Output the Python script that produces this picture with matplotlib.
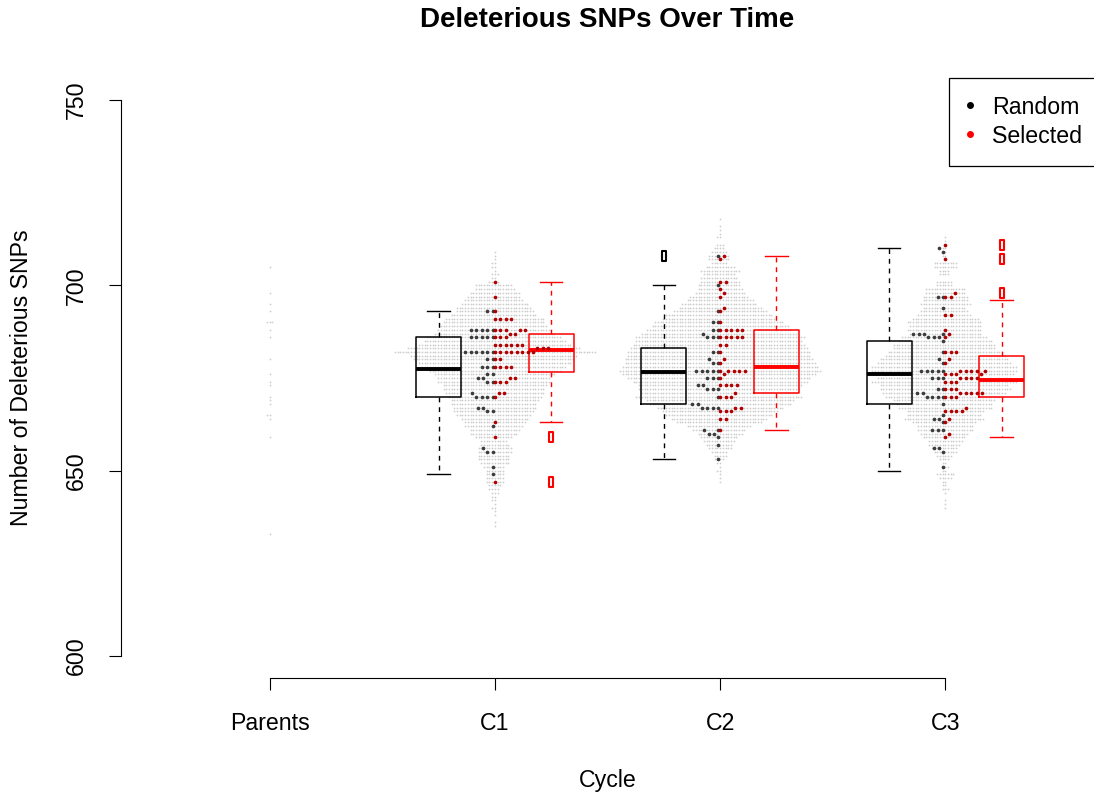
import numpy as np
import matplotlib
matplotlib.use("Agg")
import matplotlib.pyplot as plt
from matplotlib.path import Path
from matplotlib.lines import Line2D

plt.rcParams['font.family'] = ['Liberation Sans', 'DejaVu Sans']

groups = ['Parents', 'C1', 'C2', 'C3']

# parents (grey only)
parents = [705, 698, 695, 693, 690, 690, 690, 688, 686, 680, 676, 674, 673,
           670, 669, 668, 665, 665, 664, 659, 633]

# grey swarm: number of points per SNP value, counted downward from the top value
grey_top = [709, 718, 713]
grey_c1 = [1, 1, 1, 2, 2, 1, 3, 2, 4,
           14, 15, 19, 20, 22, 25, 28, 29, 32, 37,
           38, 40, 42, 45, 50, 53, 57, 64, 75, 62,
           60, 57, 54, 49, 45, 42, 42, 39, 38, 37,
           35, 33, 32, 31, 30, 28, 25, 23, 22, 19,
           18, 14, 10, 11, 13, 13, 12, 12, 11, 8,
           7, 7, 7, 7, 5, 4, 3, 2, 2, 1,
           2, 1, 1, 0, 1, 1]
grey_c2 = [1, 0, 1, 1, 1, 2, 0, 3, 4, 6,
           8, 8, 6, 11, 15, 12, 14, 15, 16, 17,
           19, 22, 25, 28, 31, 35, 40, 42, 48, 51,
           54, 58, 63, 62, 64, 66, 68, 68, 70, 71,
           73, 75, 72, 68, 65, 61, 60, 58, 62, 55,
           53, 47, 43, 40, 36, 32, 24, 20, 17, 14,
           12, 10, 9, 6, 5, 4, 2, 1, 2, 1,
           1, 1]
grey_c3 = [1, 1, 1, 2, 1, 2, 1, 9, 9, 4,
           4, 0, 6, 6, 15, 15, 17, 17, 19, 16,
           18, 20, 25, 28, 27, 28, 27, 32, 35, 38,
           38, 42, 45, 48, 50, 54, 54, 52, 50, 54,
           48, 49, 46, 44, 38, 36, 35, 29, 28, 30,
           24, 21, 21, 18, 16, 13, 12, 10, 9, 6,
           4, 2, 3, 2, 7, 5, 2, 2, 3, 1,
           0, 1, 1, 1]

# random (black) and selected (red) individuals
c1_rand = [693, 693, 688, 688, 688, 688, 688, 686, 686, 686, 686, 686, 682, 682, 682,
           682, 682, 682, 680, 680, 678, 678, 678, 676, 676, 675, 675, 674, 674, 671,
           670, 670, 670, 670, 667, 667, 666, 666, 662, 656, 655, 655, 651, 649]
c1_sel = [701, 697, 693, 691, 691, 691, 691, 688, 688, 688, 688, 688, 687, 687, 686,
          686, 686, 684, 684, 684, 684, 684, 684, 683, 683, 683, 682, 682, 682, 682,
          682, 682, 682, 682, 680, 680, 678, 678, 678, 678, 675, 675, 674, 674, 674,
          671, 671, 670, 663, 659, 647]
c2_rand = [708, 700, 693, 690, 690, 688, 688, 687, 686, 686, 686, 682, 682, 680, 679,
           679, 677, 677, 677, 677, 677, 675, 675, 675, 673, 673, 672, 672, 672, 670,
           668, 668, 667, 667, 667, 667, 661, 661, 660, 660, 659, 657, 653]
c2_sel = [708, 707, 701, 701, 699, 698, 697, 694, 693, 690, 688, 688, 688, 688, 688,
          686, 686, 686, 686, 686, 684, 684, 682, 680, 679, 677, 677, 677, 677, 677,
          676, 675, 673, 673, 673, 673, 671, 670, 670, 670, 667, 667, 666, 666, 666,
          664, 664, 661]
c3_rand = [710, 709, 697, 697, 694, 687, 687, 687, 687, 686, 686, 686, 685, 682, 680,
           679, 677, 677, 677, 677, 677, 675, 675, 675, 672, 672, 671, 671, 670, 670,
           670, 670, 668, 665, 664, 664, 663, 661, 661, 661, 656, 656, 655, 651]
c3_sel = [711, 707, 698, 697, 697, 692, 692, 688, 687, 686, 682, 682, 682, 680, 679,
          677, 677, 677, 677, 677, 676, 676, 676, 676, 675, 675, 675, 675, 674, 674,
          674, 672, 672, 672, 671, 671, 671, 671, 671, 670, 670, 670, 667, 666, 666,
          666, 666, 664, 663, 660, 659]

# boxplot statistics (C1, C2, C3)
rand_med = [677.5, 676.5, 676]
rand_q1 = [670, 668, 668]
rand_q3 = [686, 683, 685]
rand_lo = [649, 653, 650]
rand_hi = [693, 700, 710]
rand_out = [[], [708], []]
sel_med = [682.5, 678, 674.5]
sel_q1 = [676.5, 671, 670]
sel_q3 = [687, 688, 681]
sel_lo = [663, 661, 659]
sel_hi = [701, 708, 696]
sel_out = [[659, 647], [], [711, 707, 698]]

W, H = 1094, 798
fig = plt.figure(figsize=(W / 100, H / 100), dpi=100)
ax = fig.add_axes([121 / W, 1 - 678 / H, 1 - 121 / W, 600 / H])
ax.set_xlim(0.34, 4.66)
ax.set_ylim(594, 756)

sx = 973 / (4.66 - 0.34)   # px per x unit
sy = 600 / (756 - 594)     # px per y unit


def swarm(vals, d, side=0):
    v = np.asarray(vals, float) * sy
    xs = np.zeros(len(v))
    px = np.empty(0)
    py = np.empty(0)
    for i in np.argsort(v, kind='stable'):
        y = v[i]
        near = np.abs(py - y) < d
        nx_, ny_ = px[near], py[near]
        h = np.sqrt(d * d - (ny_ - y) ** 2)
        cand = np.concatenate([[0.0], nx_ - h, nx_ + h])
        if side < 0:
            cand = cand[cand <= 1e-9]
        elif side > 0:
            cand = cand[cand >= -1e-9]
        if len(nx_):
            d2 = (cand[:, None] - nx_[None, :]) ** 2 + (ny_[None, :] - y) ** 2
            cand = cand[np.all(d2 >= d * d - 1e-6, axis=1)]
        c = cand[np.argmin(np.abs(cand))]
        xs[i] = c
        px = np.append(px, c)
        py = np.append(py, y)
    return xs / sx


grey_col = '#cdcdcd'
# grey swarms
grey_sets = [parents]
for top, cnt in zip(grey_top, [grey_c1, grey_c2, grey_c3]):
    levels = top - np.arange(len(cnt))
    grey_sets.append(np.repeat(levels, cnt))
for k, vals in enumerate(grey_sets):
    off = swarm(vals, 2.7)
    ax.scatter(k + 1 + off, vals, s=1.6, color=grey_col, linewidths=0, zorder=1)

# coloured swarms
for k, (r, s) in enumerate([(c1_rand, c1_sel), (c2_rand, c2_sel), (c3_rand, c3_sel)]):
    pos = k + 2
    ro = swarm(r, 5.5, side=-1)
    so = swarm(s, 5.5, side=1)
    ax.scatter(pos + ro - 2 / sx, r, s=7, color='#3c3c3c', linewidths=0, zorder=4)
    ax.scatter(pos + so, s, s=7, color='#b00000', linewidths=0, zorder=4)

# boxplots
rect = Path([(-0.25, -0.5), (0.25, -0.5), (0.25, 0.5), (-0.25, 0.5), (-0.25, -0.5)],
            [Path.MOVETO, Path.LINETO, Path.LINETO, Path.LINETO, Path.CLOSEPOLY])


def draw_boxes(med, q1, q3, lo, hi, out, offset, col):
    stats = []
    for i in range(3):
        stats.append(dict(med=med[i], q1=q1[i], q3=q3[i], whislo=lo[i],
                          whishi=hi[i], fliers=out[i]))
    ax.bxp(stats, positions=[i + 2 + offset for i in range(3)], widths=0.2,
           capwidths=0.1, manage_ticks=False,
           boxprops=dict(color=col, lw=1.1),
           whiskerprops=dict(color=col, lw=1.0, linestyle=(0, (3.5, 3.5))),
           capprops=dict(color=col, lw=1.0),
           medianprops=dict(color=col, lw=2.8, solid_capstyle='butt'),
           flierprops=dict(marker=rect, markersize=7, markerfacecolor='none',
                           markeredgecolor=col, markeredgewidth=1.5, linestyle='none'),
           zorder=3)


draw_boxes(rand_med, rand_q1, rand_q3, rand_lo, rand_hi, rand_out, -0.25, 'black')
draw_boxes(sel_med, sel_q1, sel_q3, sel_lo, sel_hi, sel_out, 0.25, 'red')

# axes styling
for sp in ['top', 'right']:
    ax.spines[sp].set_visible(False)
ax.spines['left'].set_bounds(600, 750)
ax.spines['bottom'].set_bounds(1, 4)
ax.spines['left'].set_linewidth(0.8)
ax.spines['bottom'].set_linewidth(0.8)
ax.set_yticks([600, 650, 700, 750])
ax.set_xticks([1, 2, 3, 4])
ax.set_xticklabels(groups)
ax.tick_params(axis='both', length=8.6, width=0.8, labelsize=16.7)
ax.tick_params(axis='y', labelrotation=90, pad=15)
ax.tick_params(axis='x', pad=16)
for lab in ax.get_yticklabels():
    lab.set_va('center')

leg = ax.legend(handles=[Line2D([], [], ls='none', marker='o', color='black', ms=4),
                         Line2D([], [], ls='none', marker='o', color='red', ms=4)],
                labels=['Random', 'Selected'], loc='upper right',
                bbox_to_anchor=(1 + 6 / 973, 1),
                borderaxespad=0, fancybox=False, edgecolor='black', framealpha=1,
                fontsize=16.7, handlelength=0.25, handleheight=0.95, handletextpad=0.82,
                borderpad=0.79, labelspacing=0.25)
leg.get_frame().set_linewidth(0.9)

fig.text(607.5 / W, 1 - 20 / H, 'Deleterious SNPs Over Time', ha='center', va='center',
         fontsize=20, fontweight='bold')
fig.text(607.5 / W, 1 - 780 / H, 'Cycle', ha='center', va='center', fontsize=16.7)
fig.text(22 / W, 1 - 378 / H, 'Number of Deleterious SNPs', ha='center', va='center',
         rotation=90, fontsize=16.7)

fig.savefig('out.png', dpi=100)
